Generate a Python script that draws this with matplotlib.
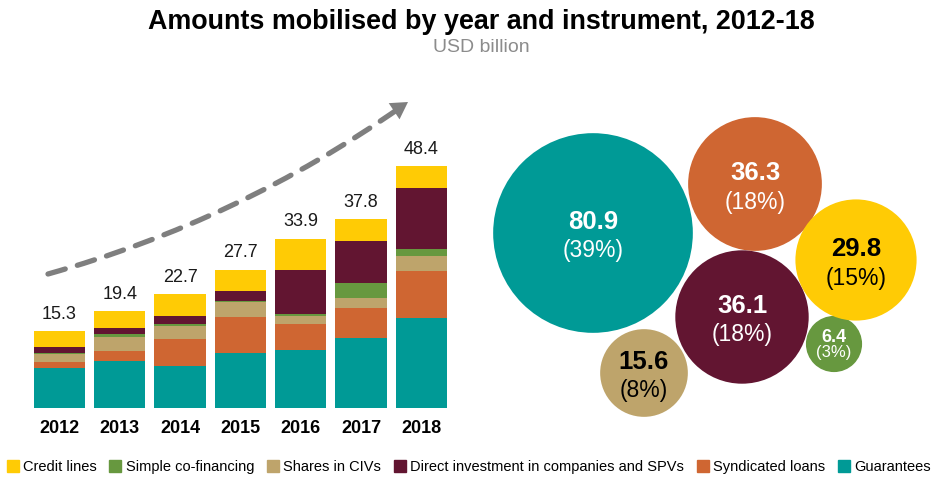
import matplotlib.pyplot as plt
import numpy as np
from matplotlib.patches import Circle, FancyArrowPatch
from matplotlib.lines import Line2D

plt.rcParams["font.family"] = ["Liberation Sans", "DejaVu Sans"]

years = ["2012", "2013", "2014", "2015", "2016", "2017", "2018"]
guarantees = [8.0, 9.4, 8.3, 11.0, 11.6, 14.0, 17.9]
syndicated = [1.1, 1.9, 5.5, 7.2, 5.2, 6.0, 9.5]
shares_civs = [1.7, 2.9, 2.5, 2.9, 1.5, 1.9, 3.1]
cofinancing = [0.1, 0.5, 0.4, 0.3, 0.4, 3.1, 1.3]
direct_inv = [1.2, 1.3, 1.6, 1.9, 9.0, 8.4, 12.2]
credit_lines = [3.2, 3.4, 4.4, 4.4, 6.2, 4.4, 4.4]
totals = [15.3, 19.4, 22.7, 27.7, 33.9, 37.8, 48.4]

instruments = ["Guarantees", "Syndicated loans", "Shares in CIVs", "Simple co-financing",
               "Direct investment in companies and SPVs", "Credit lines"]
bubble_values = [80.9, 36.3, 15.6, 6.4, 36.1, 29.8]
bubble_shares = ["39%", "18%", "8%", "3%", "18%", "15%"]

legend_order = ["Credit lines", "Simple co-financing", "Shares in CIVs",
                "Direct investment in companies and SPVs", "Syndicated loans", "Guarantees"]

colors = {
    "Guarantees": "#009a96",
    "Syndicated loans": "#cf6632",
    "Shares in CIVs": "#bea46b",
    "Simple co-financing": "#67983f",
    "Direct investment in companies and SPVs": "#621531",
    "Credit lines": "#ffcb05",
}
text_colors = ["white", "white", "black", "white", "white", "black"]

fig = plt.figure(figsize=(9.38, 4.8), dpi=100)

# overlay in pixel coordinates for bubbles, arrow and titles
ov = fig.add_axes([0, 0, 1, 1])
ov.set_xlim(0, 938)
ov.set_ylim(480, 0)
ov.axis("off")

# stacked bars
ax = fig.add_axes([0.0312, 0.151, 0.4501, 0.5396])
ax.patch.set_visible(False)
x = np.arange(len(years))
bottom = np.zeros(len(years))
stack = [guarantees, syndicated, shares_civs, cofinancing, direct_inv, credit_lines]
for name, vals in zip(instruments, stack):
    ax.bar(x, vals, width=0.85, bottom=bottom, color=colors[name], edgecolor="none")
    bottom += np.array(vals)
for xi, tot in zip(x, totals):
    ax.annotate(f"{tot:.1f}", (xi, tot), xytext=(0, 6), textcoords="offset points",
                ha="center", va="bottom", fontsize=13, color="#1a1a1a")
ax.set_xlim(-0.5, 6.5)
ax.set_ylim(0, 52)
ax.set_xticks(x)
ax.set_xticklabels(years, fontsize=13, fontweight="bold")
ax.tick_params(axis="x", length=0, pad=9)
ax.set_yticks([])
for s in ax.spines.values():
    s.set_visible(False)

centres = [(593, 233), (755, 184), (644, 373), (834, 344), (742, 317), (856, 260)]
k = 11.1
for (cx, cy), val, pct, name, tc in zip(centres, bubble_values, bubble_shares, instruments, text_colors):
    r = k * np.sqrt(val)
    ov.add_patch(Circle((cx, cy), r, facecolor=colors[name], edgecolor="none"))
    small = val < 10
    ov.text(cx, cy - (7 if small else 11), f"{val:.1f}", ha="center", va="center",
            color=tc, fontsize=13 if small else 18.5, fontweight="bold")
    ov.text(cx, cy + (9 if small else 18), f"({pct})", ha="center", va="center",
            color=tc, fontsize=12 if small else 16.5)

# dashed growth arrow: dashed shaft plus solid head
grey = "#7f7f7f"
shaft = FancyArrowPatch((48, 274), (401, 107), connectionstyle="arc3,rad=0.085",
                        arrowstyle="-", color=grey, linewidth=3.8,
                        linestyle=(0, (3.4, 2.4)), shrinkA=0, shrinkB=0)
ov.add_patch(shaft)
head = FancyArrowPatch((393, 112), (408, 102), arrowstyle="-|>,head_length=12,head_width=7",
                       color=grey, linewidth=0, shrinkA=0, shrinkB=0, mutation_scale=1)
ov.add_patch(head)

fig.text(481 / 938, 1 - 22 / 480, "Amounts mobilised by year and instrument, 2012-18",
         ha="center", va="center", fontsize=19.4, fontweight="bold")
fig.text(481 / 938, 1 - 48 / 480, "USD billion", ha="center", va="center",
         fontsize=14, color="#8c8c8c")

handles = [Line2D([], [], marker="s", linestyle="none", markersize=8, color=colors[n])
           for n in legend_order]
fig.legend(handles, legend_order, loc="center", bbox_to_anchor=(0.5, 0.027), ncol=6,
           frameon=False, fontsize=10.5, handletextpad=0.3, columnspacing=0.9,
           handlelength=0.8)

fig.savefig("out.png", dpi=100)
